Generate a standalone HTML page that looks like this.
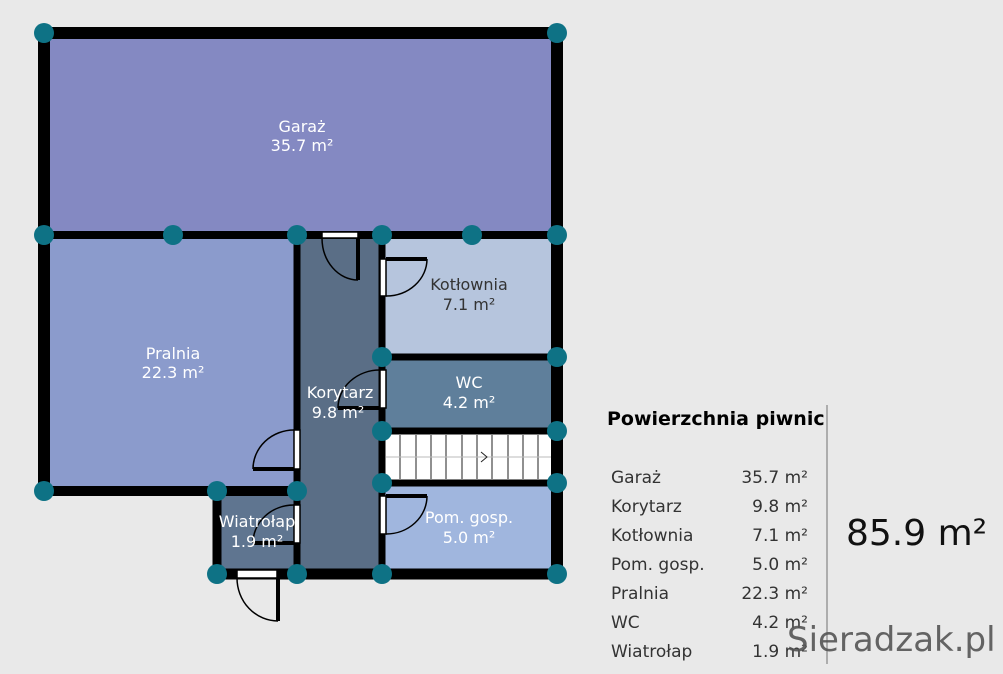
<!DOCTYPE html>
<html><head><meta charset="utf-8"><style>
body{margin:0;width:1003px;height:669px;background:#e9e9e9;overflow:hidden;font-family:"Liberation Sans","DejaVu Sans",sans-serif}
</style></head><body>
<svg width="1003" height="669" viewBox="0 0 1003 669" xmlns="http://www.w3.org/2000/svg" font-family="DejaVu Sans, Liberation Sans, sans-serif">
<rect x="0" y="0" width="1003" height="669" fill="#e9e9e9"/>
<rect x="44" y="33" width="513" height="202" fill="#8489c2"/>
<rect x="44" y="235" width="253" height="256" fill="#8b9bcc"/>
<rect x="297" y="235" width="85" height="339" fill="#5a6e86"/>
<rect x="382" y="235" width="175" height="122" fill="#b6c5dd"/>
<rect x="382" y="357" width="175" height="74" fill="#5f7f9b"/>
<rect x="382" y="431" width="175" height="52" fill="#ffffff"/>
<rect x="382" y="483" width="175" height="91" fill="#a0b6de"/>
<rect x="217" y="491" width="80" height="83" fill="#5f7590"/>
<g stroke="#222" stroke-width="1">
<line x1="400" y1="435" x2="400" y2="479"/><line x1="416" y1="435" x2="416" y2="479"/><line x1="431" y1="435" x2="431" y2="479"/><line x1="446" y1="435" x2="446" y2="479"/><line x1="462" y1="435" x2="462" y2="479"/><line x1="477" y1="435" x2="477" y2="479"/><line x1="492" y1="435" x2="492" y2="479"/><line x1="508" y1="435" x2="508" y2="479"/><line x1="523" y1="435" x2="523" y2="479"/><line x1="538" y1="435" x2="538" y2="479"/>
<line x1="386" y1="457" x2="551" y2="457" stroke="#bbb"/>
<polyline points="481,452 487,457 481,462" fill="none"/>
</g>
<g stroke="#000" stroke-linecap="square" fill="none">
<line x1="44" y1="33" x2="557" y2="33" stroke-width="12"/>
<line x1="44" y1="33" x2="44" y2="491" stroke-width="12"/>
<line x1="44" y1="491" x2="297" y2="491" stroke-width="10"/>
<line x1="44" y1="235" x2="557" y2="235" stroke-width="8"/>
<line x1="297" y1="235" x2="297" y2="574" stroke-width="7"/>
<line x1="382" y1="235" x2="382" y2="574" stroke-width="7"/>
<line x1="382" y1="357" x2="557" y2="357" stroke-width="7"/>
<line x1="382" y1="431" x2="557" y2="431" stroke-width="7"/>
<line x1="382" y1="483" x2="557" y2="483" stroke-width="7"/>
<line x1="557" y1="33" x2="557" y2="574" stroke-width="12"/>
<line x1="217" y1="574" x2="557" y2="574" stroke-width="11"/>
<line x1="217" y1="491" x2="217" y2="574" stroke-width="9"/>
</g>
<g fill="none" stroke="#000" stroke-width="1.5">
<rect x="322" y="232" width="36" height="6" fill="#fff"/>
<line x1="358" y1="238" x2="358" y2="280" stroke-width="4"/><path d="M322,238 A36,42 0 0 0 358,280"/>
<rect x="380" y="259" width="6" height="37" fill="#fff"/>
<line x1="386" y1="259" x2="427" y2="259" stroke-width="4"/><path d="M386,296 A41,37 0 0 0 427,259"/>
<rect x="380" y="370" width="6" height="38" fill="#fff"/>
<line x1="338" y1="408" x2="380" y2="408" stroke-width="4"/><path d="M380,370 A42,38 0 0 0 338,408"/>
<rect x="294" y="430" width="6" height="39" fill="#fff"/>
<line x1="253" y1="469" x2="294" y2="469" stroke-width="4"/><path d="M294,430 A41,39 0 0 0 253,469"/>
<rect x="380" y="496" width="6" height="38" fill="#fff"/>
<line x1="386" y1="496" x2="427" y2="496" stroke-width="4"/><path d="M386,534 A41,38 0 0 0 427,496"/>
<rect x="294" y="505" width="6" height="38" fill="#fff"/>
<line x1="253" y1="543" x2="294" y2="543" stroke-width="4"/><path d="M294,505 A41,38 0 0 0 253,543"/>
<rect x="237" y="570" width="40" height="8" fill="#fff"/>
<line x1="278" y1="578" x2="278" y2="621" stroke-width="4"/><path d="M237,578 A41,43 0 0 0 278,621"/>
</g>
<g fill="#0e7285">
<circle cx="44" cy="33" r="10"/><circle cx="557" cy="33" r="10"/>
<circle cx="44" cy="235" r="10"/><circle cx="173" cy="235" r="10"/><circle cx="297" cy="235" r="10"/><circle cx="382" cy="235" r="10"/><circle cx="472" cy="235" r="10"/><circle cx="557" cy="235" r="10"/>
<circle cx="382" cy="357" r="10"/><circle cx="557" cy="357" r="10"/>
<circle cx="382" cy="431" r="10"/><circle cx="557" cy="431" r="10"/>
<circle cx="382" cy="483" r="10"/><circle cx="557" cy="483" r="10"/>
<circle cx="44" cy="491" r="10"/><circle cx="217" cy="491" r="10"/><circle cx="297" cy="491" r="10"/>
<circle cx="217" cy="574" r="10"/><circle cx="297" cy="574" r="10"/><circle cx="382" cy="574" r="10"/><circle cx="557" cy="574" r="10"/>
</g>
<g font-size="16" text-anchor="middle">
<text x="302" y="132" fill="#fff">Garaż</text><text x="302" y="151" fill="#fff">35.7 m²</text>
<text x="173" y="359" fill="#fff">Pralnia</text><text x="173" y="378" fill="#fff">22.3 m²</text>
<text x="340" y="398" fill="#fff">Korytarz</text><text x="338" y="418" fill="#fff">9.8 m²</text>
<text x="469" y="290" fill="#333">Kotłownia</text><text x="469" y="310" fill="#333">7.1 m²</text>
<text x="469" y="388" fill="#fff">WC</text><text x="469" y="408" fill="#fff">4.2 m²</text>
<text x="469" y="523" fill="#fff">Pom. gosp.</text><text x="469" y="543" fill="#fff">5.0 m²</text>
<text x="257" y="527" fill="#fff">Wiatrołap</text><text x="257" y="547" fill="#fff">1.9 m²</text>
</g>
<text x="607" y="425" font-size="19" font-weight="bold" fill="#000">Powierzchnia piwnic</text>
<line x1="827" y1="405" x2="827" y2="664" stroke="#999" stroke-width="1.5"/>
<g font-size="17" fill="#333">
<text x="611" y="483">Garaż</text><text x="611" y="512">Korytarz</text><text x="611" y="541">Kotłownia</text><text x="611" y="570">Pom. gosp.</text><text x="611" y="599">Pralnia</text><text x="611" y="628">WC</text><text x="611" y="657">Wiatrołap</text>
</g>
<g font-size="17" fill="#333" text-anchor="end">
<text x="808" y="483">35.7 m²</text><text x="808" y="512">9.8 m²</text><text x="808" y="541">7.1 m²</text><text x="808" y="570">5.0 m²</text><text x="808" y="599">22.3 m²</text><text x="808" y="628">4.2 m²</text><text x="808" y="657">1.9 m²</text>
</g>
<text x="846" y="545" font-size="36" fill="#111">85.9 m²</text>
<text x="787" y="651" font-size="34" fill="#555" opacity="0.9">Sieradzak.pl</text>
</svg>
</body></html>
